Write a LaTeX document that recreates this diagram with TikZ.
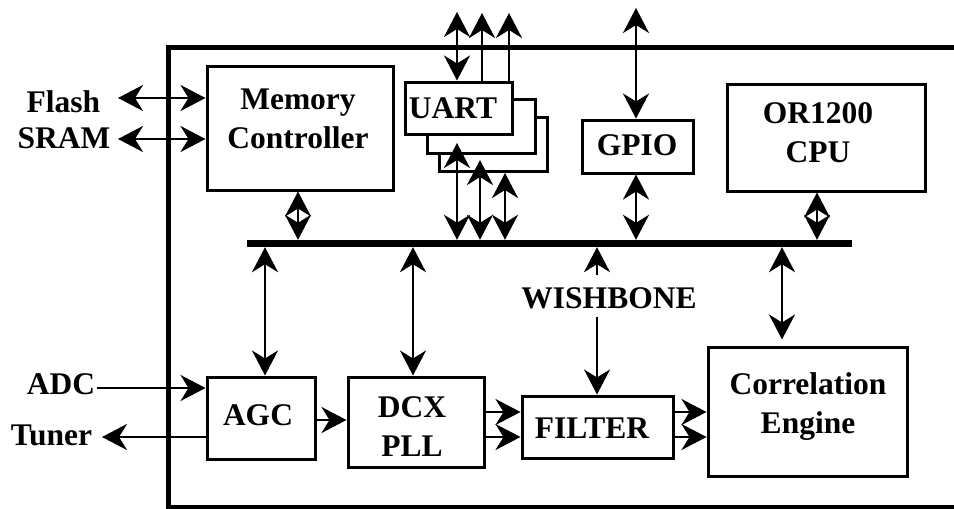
\documentclass[tikz,border=0pt]{standalone}
\usepackage{fontspec}
\setmainfont{Liberation Serif}
\usetikzlibrary{arrows.meta}
\begin{document}
\begin{tikzpicture}[x=1pt,y=-1pt,
  box/.style={draw, line width=3pt, fill=white, inner sep=0pt},
  txt/.style={font=\bfseries\fontsize{31.5}{39}\selectfont, align=center, inner sep=0pt},
  arr/.style={line width=2.5pt, -{Stealth[length=25pt,width=26pt,inset=8pt]}},
  dbl/.style={line width=2.5pt, {Stealth[length=25pt,width=26pt,inset=8pt]}-{Stealth[length=25pt,width=26pt,inset=8pt]}}]
\useasboundingbox (0,0) rectangle (954,509);
% frame
\draw[line width=5pt] (954,47) -- (168,47) -- (168,507) -- (954,507);
% bus
\node[fill=black, inner sep=0pt, minimum width=605pt, minimum height=7pt] (bus) at (549.5,243.5) {};
% outside labels
\node[txt, anchor=base] (flash) at (63.5,112) {Flash};
\node[txt, anchor=base] (sram) at (64,148) {SRAM};
\node[txt, anchor=base] (adc) at (61,394) {ADC};
\node[txt, anchor=base] (tuner) at (51.5,445) {Tuner};
\node[txt, anchor=base] (wish) at (609,308) {WISHBONE};
% boxes
\node[box, minimum width=186pt, minimum height=124pt] (mem) at (300,128) {};
\node[txt] (memt) at (298,119) {Memory\\Controller};
\node[box, minimum width=108pt, minimum height=54pt] (uart3) at (493,144) {};
\node[box, minimum width=108pt, minimum height=54pt] (uart2) at (481,126) {};
\node[box, minimum width=107pt, minimum height=52pt] (uart) at (458.5,108) {};
\node[txt, anchor=base] (uartt) at (453,118) {UART};
\node[box, minimum width=111pt, minimum height=53pt] (gpio) at (637.5,146.5) {};
\node[txt, anchor=base] (gpiot) at (637,155) {GPIO};
\node[box, minimum width=198pt, minimum height=107pt] (cpu) at (826,137.5) {};
\node[txt] (cput) at (818,132.5) {OR1200\\CPU};
\node[box, minimum width=108pt, minimum height=82pt] (agc) at (261,418) {};
\node[txt, anchor=base] (agct) at (258,425) {AGC};
\node[box, minimum width=136pt, minimum height=90pt] (dcx) at (416,422) {};
\node[txt] (dcxt) at (412,427) {DCX\\PLL};
\node[box, minimum width=151pt, minimum height=62pt] (filter) at (597.5,427) {};
\node[txt, anchor=base] (filtert) at (592,438) {FILTER};
\node[box, minimum width=199pt, minimum height=129pt] (corr) at (807.5,411.5) {};
\node[txt] (corrt) at (808,407) {Correlation\\Engine};
% Flash / SRAM
\coordinate (flashA) at (118,98);
\coordinate (sramA) at (118,139);
\draw[dbl] (flashA) -- (flashA -| mem.west);
\draw[dbl] (sramA) -- (sramA -| mem.west);
% memory to bus
\coordinate (m1) at ([xshift=-2pt]mem.south);
\draw[dbl] (m1) -- (m1 |- bus.north);
% UART top
\coordinate (ut1) at (457,12);
\coordinate (ut2) at (482,13);
\coordinate (ut3) at (509,13);
\draw[dbl] (ut1) -- (ut1 |- uart.north);
\draw[arr] (ut2 |- uart.north) -- (ut2);
\draw[arr] (ut3 |- uart.north) -- (ut3);
% UART bottom
\coordinate (ub1) at (457,143);
\coordinate (ub2) at (480,160);
\coordinate (ub3) at (505,173);
\draw[dbl] (ub1) -- (ub1 |- bus.north);
\draw[dbl] (ub2) -- (ub2 |- bus.north);
\draw[dbl] (ub3) -- (ub3 |- bus.north);
% GPIO
\coordinate (gt) at (636,8);
\draw[dbl] (gt) -- (gt |- gpio.north);
\coordinate (g1) at ([xshift=-1.5pt]gpio.south);
\draw[dbl] (g1) -- (g1 |- bus.north);
% CPU
\coordinate (c1) at ([xshift=-9pt]cpu.south);
\draw[dbl] (c1) -- (c1 |- bus.north);
% AGC, DCX
\coordinate (a1) at ([xshift=4pt]agc.north);
\draw[dbl] (a1 |- bus.south) -- (a1);
\coordinate (d1) at ([xshift=-3pt]dcx.north);
\draw[dbl] (d1 |- bus.south) -- (d1);
% Wishbone
\coordinate (wA) at (597,275);
\coordinate (wB) at (597,317);
\draw[arr] (wA) -- (wA |- bus.south);
\draw[arr] (wB) -- (wB |- filter.north);
% Correlation
\coordinate (k1) at ([xshift=-25.5pt]corr.north);
\draw[dbl, shorten >=6pt] (k1 |- bus.south) -- (k1);
% ADC / Tuner
\coordinate (adcA) at (97,388);
\draw[arr] (adcA) -- (adcA -| agc.west);
\coordinate (tunA) at (102,437);
\draw[arr] (tunA -| agc.west) -- (tunA);
% chain
\coordinate (ad) at ([yshift=-2pt]agc.east);
\draw[arr] (ad) -- (ad -| dcx.west);
\coordinate (f1) at ([yshift=15pt]filter.west);
\coordinate (f2) at ([yshift=-10pt]filter.west);
\draw[arr] (f1 -| dcx.east) -- (f1);
\draw[arr] (f2 -| dcx.east) -- (f2);
\coordinate (e1) at ([yshift=15pt]filter.east);
\coordinate (e2) at ([yshift=-10pt]filter.east);
\draw[arr] (e1) -- (e1 -| corr.west);
\draw[arr] (e2) -- (e2 -| corr.west);
\end{tikzpicture}
\end{document}
